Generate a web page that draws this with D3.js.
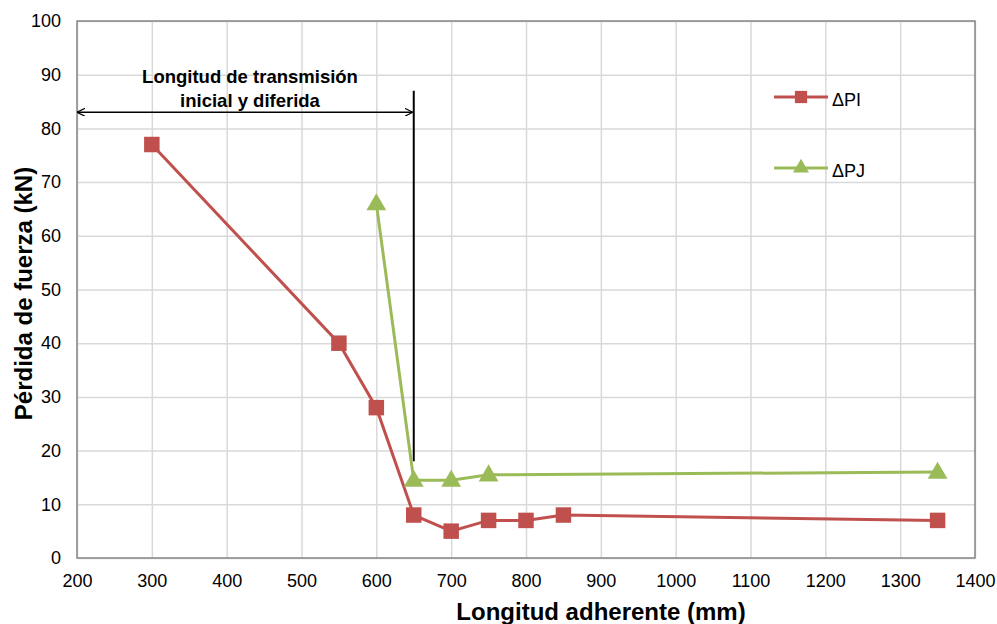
<!DOCTYPE html>
<html>
<head>
<meta charset="utf-8">
<script src="https://cdn.jsdelivr.net/npm/d3@7"></script>
<style>
  body { margin: 0; background: #fff; }
  svg, svg text { font-family: "Liberation Sans", Arial, sans-serif; }
  .grid line { stroke: #d9d9d9; stroke-width: 1.5; }
  .grid path { display: none; }
  .axis path, .axis line { display: none; }
  .axis text { font-size: 18px; fill: #000; font-family: "Liberation Sans", Arial, sans-serif; }
</style>
</head>
<body>
<svg id="chart" width="997" height="624"></svg>
<script>
const pi_x = [300, 550, 600, 650, 700, 750, 800, 850, 1350];
const pi_y = [77, 40, 28, 8, 5, 7, 7, 8, 7];
const pj_x = [600, 650, 700, 750, 1350];
const pj_y = [66, 14.5, 14.5, 15.5, 16];
const x_ticks = [200, 300, 400, 500, 600, 700, 800, 900, 1000, 1100, 1200, 1300, 1400];
const y_ticks = [0, 10, 20, 30, 40, 50, 60, 70, 80, 90, 100];

const svg = d3.select("#chart");
const margin = { top: 21, right: 22, bottom: 66, left: 77 };
const width = 997, height = 624;

const x = d3.scaleLinear().domain([200, 1400]).range([margin.left, width - margin.right]);
const y = d3.scaleLinear().domain([0, 100]).range([height - margin.bottom, margin.top]);

// rejilla
svg.append("g")
    .attr("class", "grid")
    .attr("transform", `translate(${margin.left}, 0)`)
    .call(d3.axisLeft(y).tickValues(y_ticks).tickSize(-(width - margin.left - margin.right)).tickFormat(""));

svg.append("g")
    .attr("class", "grid")
    .attr("transform", `translate(0, ${height - margin.bottom})`)
    .call(d3.axisBottom(x).tickValues(x_ticks).tickSize(-(height - margin.top - margin.bottom)).tickFormat(""));

// marco
svg.append("rect")
    .attr("x", margin.left)
    .attr("y", margin.top)
    .attr("width", width - margin.left - margin.right)
    .attr("height", height - margin.top - margin.bottom)
    .attr("fill", "none")
    .attr("stroke", "#868686")
    .attr("stroke-width", 1.5);

// ejes
svg.append("g")
    .attr("class", "axis")
    .attr("transform", `translate(0, ${height - margin.bottom})`)
    .call(d3.axisBottom(x).tickValues(x_ticks).tickFormat(d3.format("d")).tickSize(0).tickPadding(16));

svg.append("g")
    .attr("class", "axis")
    .attr("transform", `translate(${margin.left}, 0)`)
    .call(d3.axisLeft(y).tickValues(y_ticks).tickFormat(d3.format("d")).tickSize(0).tickPadding(16));

// titulos
svg.append("text")
    .attr("x", 601)
    .attr("y", 620)
    .attr("text-anchor", "middle")
    .style("font-size", "24px")
    .style("font-weight", "bold")
    .text("Longitud adherente (mm)");

svg.append("text")
    .attr("transform", `translate(32, ${(margin.top + height - margin.bottom) / 2 + 4}) rotate(-90)`)
    .attr("text-anchor", "middle")
    .style("font-size", "24px")
    .style("font-weight", "bold")
    .text("Pérdida de fuerza (kN)");

// anotacion
svg.append("defs").append("marker")
    .attr("id", "arr")
    .attr("viewBox", "0 0 10 10")
    .attr("refX", 10).attr("refY", 5)
    .attr("markerWidth", 8).attr("markerHeight", 8)
    .attr("markerUnits", "userSpaceOnUse")
    .attr("orient", "auto-start-reverse")
    .append("path")
    .attr("d", "M0,0 L10,5 L0,10")
    .attr("fill", "none")
    .attr("stroke", "#000")
    .attr("stroke-width", 1.5);

svg.append("line")
    .attr("x1", x(200)).attr("x2", x(650) - 1)
    .attr("y1", y(83)).attr("y2", y(83))
    .attr("stroke", "#000").attr("stroke-width", 1.5)
    .attr("marker-start", "url(#arr)")
    .attr("marker-end", "url(#arr)");

svg.append("line")
    .attr("x1", x(650)).attr("x2", x(650))
    .attr("y1", y(87)).attr("y2", y(18))
    .attr("stroke", "#000").attr("stroke-width", 2);

const ann = svg.append("text")
    .attr("text-anchor", "middle")
    .style("font-size", "18.5px")
    .style("font-weight", "bold");
ann.append("tspan").attr("x", 250).attr("y", 83).text("Longitud de transmisión");
ann.append("tspan").attr("x", 250).attr("y", 107).text("inicial y diferida");

// series
const pi = pi_x.map((d, i) => ({ x: d, y: pi_y[i] }));
const pj = pj_x.map((d, i) => ({ x: d, y: pj_y[i] }));

const line = d3.line().x(d => x(d.x)).y(d => y(d.y));

svg.append("path")
    .datum(pj)
    .attr("fill", "none")
    .attr("stroke", "#9BBB59")
    .attr("stroke-width", 3)
    .attr("d", line);

svg.append("path")
    .datum(pi)
    .attr("fill", "none")
    .attr("stroke", "#C0504D")
    .attr("stroke-width", 3)
    .attr("d", line);

const sq = d3.symbol().type(d3.symbolSquare).size(240);
const tri = d3.symbol().type(d3.symbolTriangle).size(170);

svg.selectAll(".pj")
    .data(pj)
    .enter().append("path")
    .attr("class", "pj")
    .attr("d", tri)
    .attr("transform", d => `translate(${x(d.x)}, ${y(d.y) + 1})`)
    .attr("fill", "#9BBB59");

svg.selectAll(".pi")
    .data(pi)
    .enter().append("path")
    .attr("class", "pi")
    .attr("d", sq)
    .attr("transform", d => `translate(${x(d.x)}, ${y(d.y)})`)
    .attr("fill", "#C0504D");

// leyenda
const legend = [
    { name: "ΔPI", color: "#C0504D", sym: d3.symbol().type(d3.symbolSquare).size(150), ly: 97 },
    { name: "ΔPJ", color: "#9BBB59", sym: d3.symbol().type(d3.symbolTriangle).size(110), ly: 168 }
];
const lg = svg.selectAll(".lg").data(legend).enter().append("g").attr("class", "lg");
lg.append("line")
    .attr("x1", 774).attr("x2", 828)
    .attr("y1", d => d.ly).attr("y2", d => d.ly)
    .attr("stroke", d => d.color).attr("stroke-width", 3);
lg.append("path")
    .attr("d", d => d.sym())
    .attr("transform", d => `translate(801, ${d.ly})`)
    .attr("fill", d => d.color);
lg.append("text")
    .attr("x", 832)
    .attr("y", d => d.ly + 9)
    .style("font-size", "18px")
    .text(d => d.name);
</script>
</body>
</html>
